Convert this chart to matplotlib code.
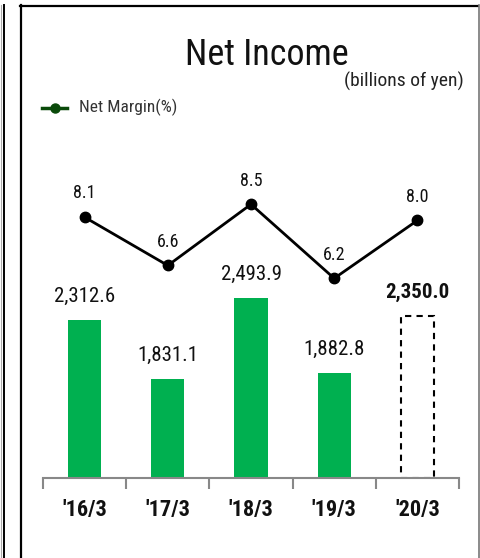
import matplotlib
matplotlib.use("Agg")
import matplotlib.pyplot as plt
from matplotlib import font_manager
from matplotlib.lines import Line2D

names = {f.name for f in font_manager.fontManager.ttflist}
FONT = ['Roboto Condensed', 'Archivo Narrow', 'PT Sans Narrow', 'Liberation Sans', 'DejaVu Sans']
FONT = [f for f in FONT if f in names] or ['DejaVu Sans']
plt.rcParams['font.family'] = FONT

categories = ["'16/3", "'17/3", "'18/3", "'19/3", "'20/3"]
net_income = [2312.6, 1831.1, 2493.9, 1882.8, 2350.0]
income_labels = ["2,312.6", "1,831.1", "2,493.9", "1,882.8", "2,350.0"]
net_margin = [8.1, 6.6, 8.5, 6.2, 8.0]

W, H = 481, 558
fig = plt.figure(figsize=(W / 100, H / 100), dpi=100)

def fx(px):
    return px / W

def fy(py):
    return 1 - py / H

# panel borders
fig.add_artist(Line2D([fx(21), fx(21)], [fy(5), fy(558)], color='black', lw=1.6))
fig.add_artist(Line2D([fx(20), fx(478)], [fy(5.5), fy(5.5)], color='black', lw=1.6))
fig.add_artist(Line2D([fx(479.5), fx(479.5)], [fy(5), fy(558)], color='#777777', lw=1.2))
fig.add_artist(Line2D([fx(3.5), fx(3.5)], [fy(5), fy(558)], color='black', lw=1.4))
fig.add_artist(Line2D([fx(1), fx(1)], [fy(5), fy(558)], color='#aaaaaa', lw=0.8))

# axes
ax_left, ax_right, ax_top, ax_bottom = 43, 459, 100, 478
ax = fig.add_axes([fx(ax_left), fy(ax_bottom), fx(ax_right - ax_left), (ax_bottom - ax_top) / H])
x = list(range(len(categories)))
bar_lo = 1021
bar_hi = bar_lo + (ax_bottom - ax_top) / 0.1222
ax.set_ylim(bar_lo, bar_hi)
ax.set_xlim(-0.5, len(categories) - 0.5)

green = '#00b050'
for i, v in enumerate(net_income):
    last = i == len(net_income) - 1
    if not last:
        ax.bar(i, v - bar_lo, bottom=bar_lo, width=0.4, color=green, zorder=2)
    else:
        ax.bar(i, v - bar_lo, bottom=bar_lo, width=0.4, facecolor='none',
               edgecolor='black', linestyle=(0, (3, 2.5)), linewidth=1.5, zorder=2)
    ax.annotate(income_labels[i], (i, v), xytext=(0, 13), textcoords='offset points',
                ha='center', va='baseline', fontsize=15,
                fontweight='bold' if last else 'normal', color='#111111')

for s in ['top', 'right', 'left']:
    ax.spines[s].set_visible(False)
ax.spines['bottom'].set_color('#888888')
ax.spines['bottom'].set_linewidth(1.5)
ax.set_yticks([])
ax.set_xticks([i - 0.5 for i in range(len(categories) + 1)])
ax.set_xticklabels([])
ax.tick_params(axis='x', which='major', length=8, width=1.5, color='#888888', direction='out')
ax.set_xticks(x, minor=True)
ax.set_xticklabels(categories, minor=True, fontsize=16, fontweight='bold', color='#111111')
ax.tick_params(axis='x', which='minor', length=0, pad=15)
ax.patch.set_alpha(0)

ax2 = ax.twinx()
ax2.set_ylim(0, (ax_bottom - ax_top) / 32.2)
ax2.plot(x, net_margin, color='black', lw=2, marker='o', markersize=7.5, zorder=3)
for i, v in enumerate(net_margin):
    ax2.annotate(f"{v:.1f}", (i, v), xytext=(0, 13.5), textcoords='offset points',
                 ha='center', va='baseline', fontsize=13, color='#111111')
ax2.axis('off')

# title and unit
fig.text(fx(266.5), fy(65), "Net Income", ha='center', va='baseline', fontsize=26,
         color='#111111')
fig.text(fx(464), fy(87), "(billions of yen)", ha='right', va='baseline', fontsize=14,
         color='#222222')

# legend
dg = '#0a4a0a'
fig.add_artist(Line2D([fx(42), fx(67)], [fy(108), fy(108)], color=dg, lw=2.5))
fig.add_artist(Line2D([fx(54.5)], [fy(108)], color=dg, marker='o', markersize=6.5, lw=0))
fig.text(fx(79), fy(112.5), "Net Margin(%)", ha='left', va='baseline', fontsize=12.5,
         color='#333333')

fig.savefig('out.png', dpi=100)
